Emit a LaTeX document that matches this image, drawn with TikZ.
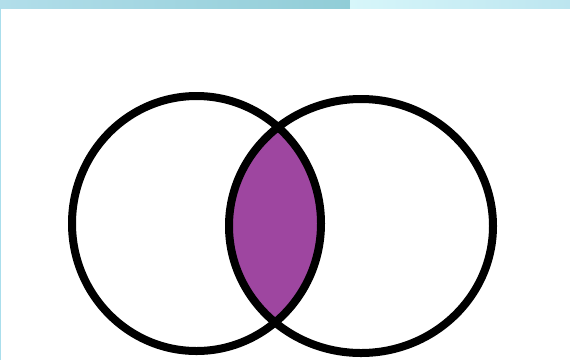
\documentclass[tikz,border=0pt]{standalone}
\usetikzlibrary{shapes.geometric}
\begin{document}
\begin{tikzpicture}[x=1pt,y=-1pt,
  ring/.style={draw=black,line width=8pt,ellipse,inner sep=0pt},
  lens/.style={fill=lensc}]
\definecolor{lensc}{RGB}{158,70,160}
\definecolor{bandL}{RGB}{178,222,234}
\definecolor{bandM}{RGB}{145,205,215}
\definecolor{bandR1}{RGB}{215,246,250}
\definecolor{bandR2}{RGB}{188,229,239}
\definecolor{sideC}{RGB}{170,222,236}
\useasboundingbox (0,0) rectangle (570,360);
\fill[white] (0,0) rectangle (570,360);
% top band and left strip
\shade[left color=bandL,right color=bandM] (0,0) rectangle (350,8);
\shade[left color=bandR1,right color=bandR2] (350,0) rectangle (570,8);
\fill[sideC] (0,8) rectangle (1.2,360);
% lens
\begin{scope}
  \clip (196.5,223.5) ellipse [x radius=124.5,y radius=127.5];
  \fill[lens] (361,226) ellipse [x radius=132,y radius=127];
\end{scope}
\node[ring,minimum width=249pt,minimum height=255pt] (L) at (196.5,223.5) {};
\node[ring,minimum width=264pt,minimum height=254pt] (R) at (361,226) {};
\end{tikzpicture}
\end{document}
